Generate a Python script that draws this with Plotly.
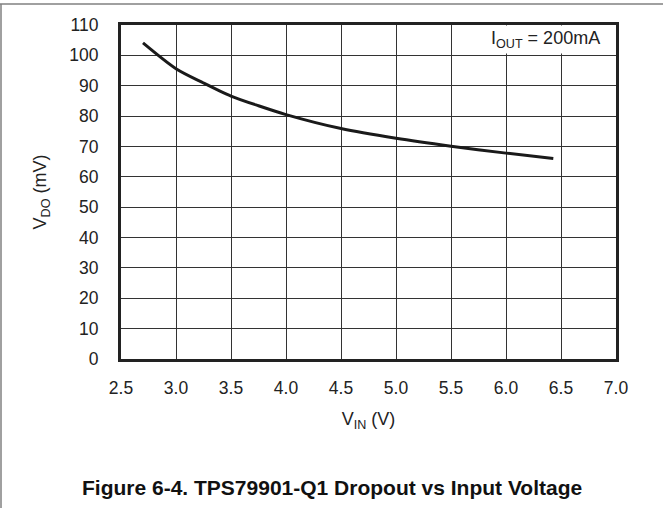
import plotly.graph_objects as go

# Dropout voltage vs input voltage, I_OUT = 200 mA
vin = [2.7, 3.0, 3.25, 3.5, 3.75, 4.0, 4.5, 5.0, 5.5, 6.0, 6.43]
vdo = [104.1, 95.6, 90.9, 86.6, 83.4, 80.5, 75.9, 72.7, 70.1, 67.8, 66.0]

x_ticks = [2.5, 3.0, 3.5, 4.0, 4.5, 5.0, 5.5, 6.0, 6.5, 7.0]
x_tick_text = ["2.5", "3.0", "3.5", "4.0", "4.5", "5.0", "5.5", "6.0", "6.5", "7.0"]
y_ticks = list(range(0, 111, 10))

FONT = "Liberation Sans, Arial, sans-serif"
W, H = 663, 508
L, R, T, B = 121, 47, 25, 149
pw, ph = W - L - R, H - T - B


def px_x(px):
    return (px - L) / pw


def px_y(py):
    return (H - B - py) / ph


fig = go.Figure()
fig.add_trace(go.Scatter(
    x=vin, y=vdo, mode="lines",
    line=dict(color="#1a1a1a", width=3, shape="spline", smoothing=0.8),
    hoverinfo="skip", showlegend=False,
))

axis_common = dict(
    showline=True, linecolor="#222", linewidth=3, mirror=True,
    showgrid=True, gridcolor="#333", gridwidth=1,
    zeroline=False, ticks="",
    tickfont=dict(family=FONT, size=17.5, color="#222"),
)

fig.update_xaxes(
    range=[2.5, 7.0], tickvals=x_ticks, ticktext=x_tick_text,
    ticklabelstandoff=11,
    title=dict(text="V<sub>IN</sub> (V)", font=dict(family=FONT, size=18, color="#222"),
               standoff=16),
    **axis_common,
)
fig.update_yaxes(
    range=[0, 110], tickvals=y_ticks,
    ticklabelstandoff=16,
    title=dict(text="V<sub>DO</sub> (mV)", font=dict(family=FONT, size=18, color="#222"),
               standoff=18),
    **axis_common,
)

# condition label in the upper-right corner
fig.add_annotation(
    x=px_x(603), y=px_y(40), xref="paper", yref="paper",
    xanchor="right", yanchor="middle",
    text="I<sub>OUT</sub> = 200mA", showarrow=False,
    font=dict(family=FONT, size=18, color="#222"),
    bgcolor="white", borderpad=2,
)

# figure caption
fig.add_annotation(
    x=px_x(332), y=px_y(488), xref="paper", yref="paper",
    xanchor="center", yanchor="middle",
    text="<b>Figure 6-4. TPS79901-Q1 Dropout vs Input Voltage</b>",
    showarrow=False,
    font=dict(family=FONT, size=21, color="#111"),
)

# page frame rules (top and left)
fig.add_shape(type="line", xref="paper", yref="paper",
              x0=px_x(0), x1=px_x(W), y0=px_y(4), y1=px_y(4),
              line=dict(color="#808080", width=1.5))
fig.add_shape(type="line", xref="paper", yref="paper",
              x0=px_x(1), x1=px_x(1), y0=px_y(4), y1=px_y(H),
              line=dict(color="#808080", width=1.5))

fig.update_layout(
    width=W, height=H,
    margin=dict(l=L, r=R, t=T, b=B),
    paper_bgcolor="white", plot_bgcolor="white",
    font=dict(family=FONT),
)

fig.write_html("out.html", config={"displayModeBar": False})
